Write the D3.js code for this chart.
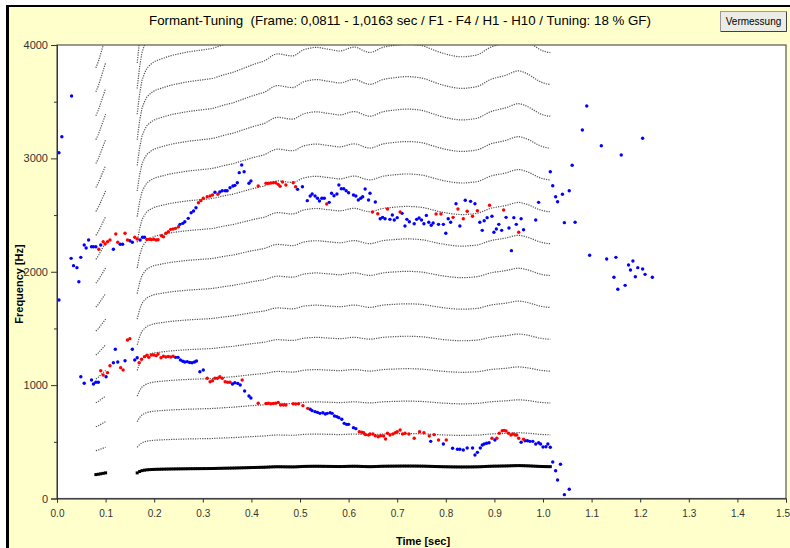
<!DOCTYPE html>
<html><head><meta charset="utf-8">
<script src="https://cdn.jsdelivr.net/npm/d3@7"></script>
<style>
html,body{margin:0;padding:0;background:#fff;}
svg{display:block;}
text{font-family:"Liberation Sans Narrow","Arial Narrow","Liberation Sans",sans-serif;}
</style></head><body>
<svg id="chart" width="790" height="548"></svg>
<script>
// ---- data -------------------------------------------------------------
const titleText = "Formant-Tuning  (Frame: 0,0811 - 1,0163 sec / F1 - F4 / H1 - H10 / Tuning: 18 % GF)";
const buttonText = "Vermessung";
const xLabel = "Time [sec]";
const yLabel = "Frequency [Hz]";

const xTicks = [0, 0.1, 0.2, 0.3, 0.4, 0.5, 0.6, 0.7, 0.8, 0.9, 1.0, 1.1, 1.2, 1.3, 1.4, 1.5];
const yTicks = [0, 1000, 2000, 3000, 4000];
const yMinorTicks = [500, 1500, 2500, 3500];

// fundamental (H1) per analysis frame, two voiced stretches
const frameStep = 0.005;
const f0StartA = 0.080;
const f0A = [211, 214, 218, 222, 226];
const f0StartB = 0.165;
const f0B = [
  226, 238, 246, 250, 253, 254.5, 255.8, 256.8, 257.5, 258.0,
  258.5, 259.0, 259.5, 260.0, 260.4, 260.8, 261.1, 261.4, 261.7, 262.0,
  262.3, 262.6, 262.8, 263.0, 263.2, 263.4, 263.6, 263.8, 264.0, 264.2,
  264.4, 264.7, 265.1, 265.6, 266.1, 266.6, 267.1, 267.5, 267.9, 268.3,
  268.8, 269.4, 270.0, 270.6, 271.2, 271.8, 272.4, 273.0, 273.5, 274.0,
  274.5, 275.0, 275.4, 276.3, 277.3, 278.4, 279.4, 280.0, 280.2, 280.0,
  279.7, 279.4, 279.1, 278.9, 278.8, 279.2, 280.2, 281.4, 282.4, 283.0,
  283.4, 283.7, 284.0, 284.2, 284.2, 284.1, 283.8, 283.5, 283.2, 283.0,
  282.7, 282.4, 282.1, 281.9, 282.0, 282.4, 283.0, 283.6, 284.1, 284.4,
  284.3, 283.8, 283.0, 282.2, 281.6, 281.1, 281.0, 281.3, 282.0, 282.8,
  283.6, 284.2, 284.6, 284.9, 285.1, 285.3, 285.5, 285.7, 285.9, 286.1,
  286.2, 286.2, 286.2, 286.1, 286.0, 285.8, 285.6, 285.3, 285.0, 284.4,
  283.8, 283.2, 282.6, 282.0, 281.4, 280.9, 280.4, 280.0, 279.6, 279.2,
  278.9, 278.6, 278.4, 278.3, 278.3, 278.3, 278.5, 278.7, 278.9, 279.2,
  279.5, 280.2, 281.1, 282.1, 283.1, 284.0, 284.7, 285.2, 285.6, 286.0,
  286.4, 286.8, 287.3, 288.0, 288.8, 289.5, 290.0, 290.2, 289.9, 289.3,
  288.6, 287.8, 286.8, 285.7, 284.6, 283.5, 282.7, 282.0, 281.5, 281.1,
  281.0
];
// overtones drawn as dotted tracks
const harmonicNumbers = [2, 3, 4, 5, 6, 7, 8, 9, 10, 11, 12, 13, 14, 15, 16, 17, 18, 19];

// formant estimates lying on a harmonic (tuned)
const tunedFormants = [
  [0.086,2198],[0.095,2265],[0.099,2245],[0.104,2265],[0.109,2280],[0.121,2333],[0.125,2260],[0.140,2339],[0.145,2280],[0.160,2304],[0.165,2289],
  [0.185,2285],[0.190,2287],[0.194,2283],[0.199,2287],[0.204,2280],[0.208,2282],
  [0.215,2318],[0.219,2309],[0.224,2339],[0.229,2353],[0.234,2374],[0.239,2377],[0.244,2383],[0.250,2397],
  [0.291,2609],[0.296,2627],[0.301,2648],[0.309,2662],[0.315,2668],[0.320,2677],[0.331,2683],
  [0.414,2756],[0.430,2780],[0.435,2780],[0.440,2783],[0.445,2785],[0.450,2785],[0.455,2771],[0.459,2754],[0.464,2792],[0.471,2765],[0.486,2785],[0.491,2750],
  [0.555,2597],
  [0.649,2527],[0.660,2512],[0.680,2553],[0.706,2527],[0.780,2509],[0.790,2509],[0.815,2480],[0.825,2553],[0.836,2468],[0.844,2533],[0.855,2489],[0.865,2538],[0.890,2586],[0.919,2545],[0.950,2348],
  [0.090,1127],[0.095,1089],[0.104,1110],[0.109,1171],[0.131,1154],[0.136,1133],[0.145,1398],[0.150,1410],
  [0.169,1198],[0.174,1228],[0.180,1251],[0.185,1263],[0.189,1245],[0.194,1266],[0.199,1266],[0.204,1260],[0.208,1274],[0.214,1242],[0.219,1255],[0.224,1248],[0.229,1252],[0.234,1248],[0.239,1255],
  [0.309,1060],[0.315,1030],[0.320,1039],[0.325,1060],[0.330,1060],[0.335,1074],[0.340,1060],[0.346,1030],[0.351,1025],[0.356,1025],[0.381,1045],
  [0.414,840],[0.430,838],[0.435,840],[0.440,836],[0.445,838],[0.450,840],[0.455,848],[0.460,825],[0.466,825],[0.471,825],[0.486,836],[0.491,833],[0.497,836],[0.506,819],[0.516,795],
  [0.622,589],[0.627,584],[0.631,580],[0.635,563],[0.641,560],
  [0.644,569],[0.650,569],[0.655,554],[0.661,545],[0.666,554],[0.672,551],[0.676,525],[0.680,575],[0.685,560],[0.691,569],[0.696,580],[0.700,589],[0.706,604],[0.711,569],[0.716,575],[0.724,569],[0.735,531],[0.746,589],[0.755,580],[0.766,551],[0.776,563],[0.785,516],[0.801,516],
  [0.895,531],[0.905,531],[0.910,575],[0.916,598],[0.920,601],[0.924,595],[0.929,575],[0.934,560],[0.938,569],[0.943,560],[0.946,560],[0.950,531],[0.960,522]
];

// formant estimates between harmonics (untuned)
const untunedFormants = [
  [0.004,3050],[0.010,3191],[0.030,3550],[0.004,1751],
  [0.029,2118],[0.034,2054],[0.041,2036],[0.045,1912],[0.049,2127],[0.056,2236],[0.060,2209],[0.065,2280],[0.071,2221],[0.075,2221],[0.080,2221],[0.090,2236],[0.116,2198],[0.130,2242],[0.135,2242],[0.150,2274],[0.155,2260],[0.171,2280],[0.176,2304],[0.180,2304],
  [0.253,2418],[0.259,2427],[0.263,2441],[0.270,2471],[0.276,2521],[0.281,2536],[0.286,2565],[0.325,2701],[0.335,2703],[0.340,2715],[0.346,2715],[0.350,2715],[0.356,2741],[0.362,2756],[0.366,2762],[0.371,2785],[0.375,2874],[0.380,2941],[0.385,2882],[0.395,2780],[0.399,2800],
  [0.495,2727],[0.505,2750],[0.515,2627],[0.521,2668],[0.525,2686],[0.531,2668],[0.536,2648],[0.540,2624],[0.545,2648],[0.550,2648],[0.560,2612],[0.565,2692],[0.570,2671],[0.576,2686],[0.580,2765],[0.585,2732],[0.590,2732],[0.595,2715],[0.600,2697],[0.610,2677],[0.615,2668],[0.620,2633],[0.625,2648],[0.629,2662],[0.634,2730],[0.641,2633],
  [0.644,2692],[0.655,2615],[0.665,2468],[0.670,2480],[0.675,2468],[0.685,2462],[0.690,2500],[0.694,2456],[0.700,2477],[0.710,2515],[0.716,2403],[0.720,2462],[0.725,2441],[0.735,2424],[0.740,2462],[0.745,2474],[0.750,2456],[0.755,2424],[0.760,2497],[0.765,2436],[0.770,2410],[0.774,2430],[0.785,2418],[0.795,2418],[0.800,2339],[0.805,2468],[0.810,2436],[0.821,2600],[0.829,2403],[0.840,2630],[0.851,2621],[0.860,2600],[0.870,2436],[0.875,2365],[0.879,2450],[0.885,2477],[0.895,2489],[0.899,2348],[0.904,2377],[0.909,2418],[0.915,2365],[0.924,2480],[0.930,2386],[0.935,2186],[0.940,2477],[0.945,2418],[0.955,2468],[0.960,2371],[0.985,2456],[0.991,2612],
  [1.015,2882],[1.020,2759],[1.026,2662],[1.030,2618],[1.040,2683],[1.044,2433],[1.054,2715],[1.060,2939],[1.066,2436],[1.081,3250],[1.090,3462],[1.096,2145],[1.120,3112],[1.131,2112],[1.146,1951],[1.150,2127],[1.154,1845],[1.161,3030],[1.169,1880],[1.176,2059],[1.180,2015],[1.185,2095],[1.190,1956],[1.195,2036],[1.205,3177],[1.205,2024],[1.210,1977],[1.225,1951],
  [0.049,1074],[0.056,1016],[0.071,1045],[0.075,1010],[0.080,1025],[0.085,1025],[0.101,1074],[0.116,1198],[0.120,1316],[0.125,1204],[0.140,1215],[0.155,1316],[0.160,1222],[0.165,1242],
  [0.244,1245],[0.249,1245],[0.254,1222],[0.259,1210],[0.263,1204],[0.268,1207],[0.273,1200],[0.278,1198],[0.283,1204],[0.287,1213],[0.294,1118],[0.301,1133],
  [0.361,1010],[0.366,1021],[0.372,1015],[0.377,1001],[0.386,948],[0.395,904],[0.399,886],
  [0.521,787],[0.525,775],[0.531,766],[0.536,760],[0.541,751],[0.547,757],[0.552,745],[0.556,751],[0.562,757],[0.566,751],[0.571,728],[0.576,722],[0.580,713],[0.586,699],[0.591,663],[0.596,654],[0.600,654],[0.610,625],[0.615,616],
  [0.769,504],[0.795,481],[0.814,443],[0.824,434],[0.829,434],[0.836,428],[0.844,445],[0.855,445],[0.860,384],[0.865,407],[0.871,445],[0.875,472],[0.879,481],[0.884,487],[0.889,492],[0.901,516],[0.955,496],[0.963,510],[0.968,510],[0.973,504],[0.979,504],[0.985,481],[0.991,492],[0.995,481],[1.000,454],[1.006,457],[1.010,481],[1.015,452],
  [1.020,322],[1.026,245],[1.030,163],[1.036,302],[1.044,34],[1.054,81]
];

// ---- layout -----------------------------------------------------------
const W = 790, H = 548;
const plot = {left: 57, right: 786, top: 45, bottom: 498.5};

const svg = d3.select("#chart");

// window panel with dark frame on the left and top
svg.append("rect").attr("x", 6).attr("y", 5).attr("width", W - 6).attr("height", H - 5).attr("fill", "#FFFFCC");
svg.append("rect").attr("x", 6).attr("y", 5).attr("width", 3).attr("height", H - 5).attr("fill", "#000");
svg.append("rect").attr("x", 6).attr("y", 5).attr("width", W - 6).attr("height", 2).attr("fill", "#000");

// title
svg.append("text")
  .attr("x", 400).attr("y", 25)
  .attr("text-anchor", "middle")
  .style("white-space", "pre")
  .attr("font-size", 13.3)
  .attr("fill", "#000")
  .text(titleText);

// button
const btn = svg.append("g");
btn.append("rect").attr("x", 720.5).attr("y", 11.5).attr("width", 66).attr("height", 20)
  .attr("fill", "#ECECE6").attr("stroke", "#9A9A9A");
btn.append("path").attr("d", "M721,31.5H786.5V12").attr("fill", "none").attr("stroke", "#404040");
btn.append("text").attr("x", 753.5).attr("y", 25).attr("text-anchor", "middle")
  .attr("font-size", 10).attr("fill", "#000").text(buttonText);

// scales
const x = d3.scaleLinear().domain([0, 1.5]).range([plot.left, plot.right]);
const y = d3.scaleLinear().domain([0, 4000]).range([plot.bottom, plot.top]);

// plot background
svg.append("rect")
  .attr("x", plot.left).attr("y", plot.top)
  .attr("width", plot.right - plot.left).attr("height", plot.bottom - plot.top)
  .attr("fill", "#fff").attr("stroke", "#555").attr("stroke-width", 1.2);

svg.append("clipPath").attr("id", "clip")
  .append("rect").attr("x", plot.left).attr("y", plot.top)
  .attr("width", plot.right - plot.left).attr("height", plot.bottom - plot.top);

const g = svg.append("g").attr("clip-path", "url(#clip)");

// fundamental frames
function frames(start, values) {
  return values.map((f, i) => ({t: start + i * frameStep, f}));
}
const f0Tracks = [frames(f0StartA, f0A), frames(f0StartB, f0B)];

// harmonic tracks (n x fundamental)
const line = d3.line().x(d => x(d.t)).y(d => y(d.f));
harmonicNumbers.forEach(n => {
  f0Tracks.forEach(track => {
    g.append("path")
      .attr("d", line(track.map(d => ({t: d.t, f: d.f * n}))))
      .attr("fill", "none")
      .attr("stroke", "#505050")
      .attr("stroke-width", 1.2)
      .attr("stroke-dasharray", "1.2,1.2");
  });
});

// fundamental markers
g.selectAll("rect.h1")
  .data(f0Tracks.flat())
  .join("rect").attr("class", "h1")
  .attr("x", d => x(d.t) - 1.5).attr("y", d => y(d.f) - 1.5)
  .attr("width", 3).attr("height", 3).attr("fill", "#000");

// formant points
g.selectAll("circle.untuned")
  .data(untunedFormants)
  .join("circle").attr("class", "untuned")
  .attr("cx", d => x(d[0])).attr("cy", d => y(d[1])).attr("r", 1.7)
  .attr("fill", "#0000FF");

g.selectAll("circle.tuned")
  .data(tunedFormants)
  .join("circle").attr("class", "tuned")
  .attr("cx", d => x(d[0])).attr("cy", d => y(d[1])).attr("r", 1.7)
  .attr("fill", "#FF0000");

// axes
const xAxis = d3.axisBottom(x).tickValues(xTicks).tickFormat(d3.format(".1f")).tickSize(4).tickPadding(7);
const gx = svg.append("g").attr("transform", `translate(0,${plot.bottom})`).call(xAxis);
gx.select(".domain").attr("stroke", "#333");
gx.selectAll(".tick line").attr("stroke", "#333");
gx.selectAll("text").attr("font-size", 10).attr("fill", "#333").attr("font-family", null);
// keep the last label inside the window edge
gx.selectAll(".tick").filter(d => d === xTicks[xTicks.length - 1])
  .select("text").attr("text-anchor", "end").attr("dx", 3.5);

const yAxis = d3.axisLeft(y).tickValues(yTicks).tickFormat(d3.format("d")).tickSize(6).tickPadding(3);
const gy = svg.append("g").attr("transform", `translate(${plot.left},0)`).call(yAxis);
gy.select(".domain").attr("stroke", "#333");
gy.selectAll(".tick line").attr("stroke", "#333");
gy.selectAll("text").attr("font-size", 11).attr("fill", "#333").attr("font-family", null);

const gyMinor = svg.append("g").attr("transform", `translate(${plot.left},0)`)
  .call(d3.axisLeft(y).tickValues(yMinorTicks).tickFormat("").tickSize(3));
gyMinor.select(".domain").remove();
gyMinor.selectAll(".tick line").attr("stroke", "#333");

// axis titles
svg.append("text")
  .attr("x", 423).attr("y", 545)
  .attr("text-anchor", "middle").attr("font-size", 11).attr("font-weight", "bold")
  .attr("fill", "#000").text(xLabel);

svg.append("text")
  .attr("transform", "translate(23,284) rotate(-90)")
  .attr("text-anchor", "middle").attr("font-size", 11).attr("font-weight", "bold")
  .attr("fill", "#000").text(yLabel);
</script>
</body></html>
